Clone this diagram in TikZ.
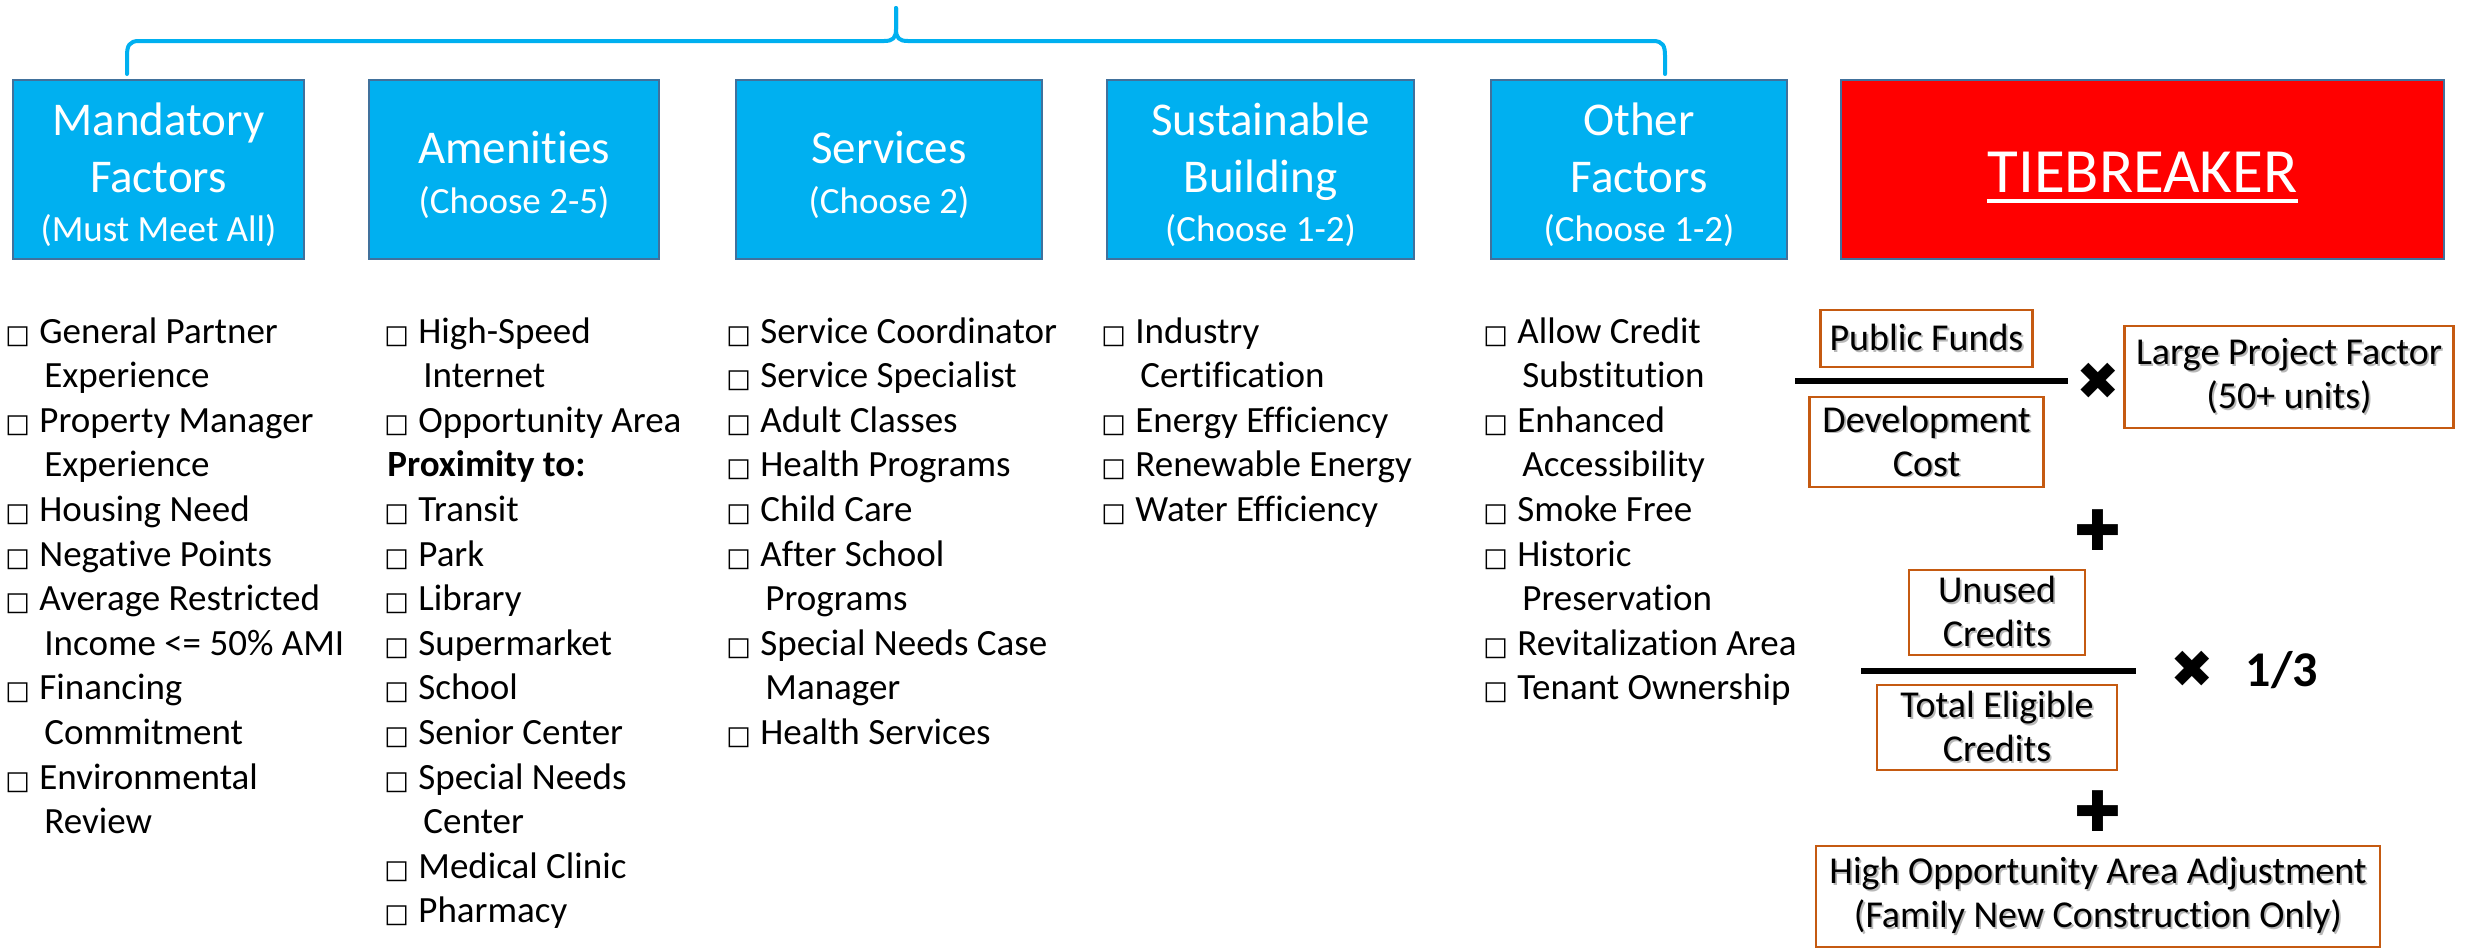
\documentclass[tikz,border=0pt]{standalone}
\usepackage{fontspec}
\setmainfont{Carlito}[Ligatures=NoCommon]
\newfontfamily\symfont{DejaVu Sans}

\definecolor{catblue}{HTML}{00B0F0}
\definecolor{edgeblue}{HTML}{41719C}
\definecolor{tiered}{HTML}{FF0000}
\definecolor{rustedge}{HTML}{C55A11}

% check box glyph and continuation indent for the criteria lists
\newcommand{\cbx}{\makebox[17pt][l]{\symfont\fontsize{13}{13}\selectfont □}}
\newcommand{\ind}{\hspace*{19.5pt}}
% text with a soft drop shadow
\newcommand{\shd}[1]{\makebox[0pt][l]{\kern0.9pt\raisebox{-0.9pt}{\textcolor{black!28}{#1}}}#1}

\begin{document}
\begin{tikzpicture}[x=0.5pt,y=-0.5pt,
  catbox/.style={draw=edgeblue, line width=1.2pt, fill=catblue, inner sep=0pt},
  redbox/.style={draw=edgeblue, line width=1.2pt, fill=tiered, inner sep=0pt},
  ttl/.style={text=white, font=\fontsize{23.5}{28}\selectfont, anchor=base, inner sep=0pt},
  sub/.style={text=white, font=\fontsize{18.5}{22}\selectfont, anchor=base, inner sep=0pt},
  li/.style={font=\fontsize{18.5}{22}\selectfont, anchor=base west, inner sep=0pt},
  tbox/.style={draw=rustedge, line width=1.4pt, align=center, inner sep=0pt,
    font=\fontsize{19}{22}\selectfont},
  frac/.style={line width=3pt, black},
  times/.style={font=\symfont\fontsize{26}{26}\selectfont, inner sep=0pt},
  plus/.style={font=\symfont\fontsize{28}{28}\selectfont, inner sep=0pt},
  brace/.style={catblue, line width=2pt, line join=round, line cap=round}]

\useasboundingbox (0,0) rectangle (2476,950);

% ---- curly brace over the five scoring categories ----
\coordinate (bl) at (127,74);
\coordinate (bt) at (896,8);
\coordinate (br) at (1665,74);
\draw[brace] (bl) -- (127,56) .. controls (127,46) and (129,41) .. (139,41)
  -- (884,41) .. controls (893,41) and (896,38) .. (896,29) -- (bt);
\draw[brace] (bt) -- (896,29) .. controls (896,38) and (899,41) .. (908,41)
  -- (1653,41) .. controls (1663,41) and (1665,46) .. (1665,56) -- (br);

% ---- category headers ----
\node[catbox, minimum width=145.5pt, minimum height=89.5pt] (mand) at (158.5,169.5) {};
\node[ttl] (mand-a) at (158.5,135) {Mandatory};
\node[ttl] (mand-b) at (158.5,192) {Factors};
\node[sub] (mand-c) at (158.5,241) {(Must Meet All)};

\node[catbox, minimum width=145pt, minimum height=89.5pt] (amen) at (514,169.5) {};
\node[ttl] (amen-a) at (514,163) {Amenities};
\node[sub] (amen-b) at (514,213) {(Choose 2-5)};

\node[catbox, minimum width=153pt, minimum height=89.5pt] (serv) at (889,169.5) {};
\node[ttl] (serv-a) at (889,163) {Services};
\node[sub] (serv-b) at (889,213) {(Choose 2)};

\node[catbox, minimum width=153.5pt, minimum height=89.5pt] (sust) at (1260.5,169.5) {};
\node[ttl] (sust-a) at (1260.5,135) {Sustainable};
\node[ttl] (sust-b) at (1260.5,192) {Building};
\node[sub] (sust-c) at (1260.5,241) {(Choose 1-2)};

\node[catbox, minimum width=148pt, minimum height=89.5pt] (oth) at (1639,169.5) {};
\node[ttl] (oth-a) at (1639,135) {Other};
\node[ttl] (oth-b) at (1639,192) {Factors};
\node[sub] (oth-c) at (1639,241) {(Choose 1-2)};

\node[redbox, minimum width=301.5pt, minimum height=89.5pt] (tie) at (2142.5,169.5) {};
\node[text=white, font=\fontsize{31.5}{36}\selectfont, anchor=base, inner sep=0pt]
  (tie-t) at (2142.5,192) {TIEBREAKER};
\draw[white, line width=2pt] ([yshift=-4.6pt]tie-t.base west) -- ([yshift=-4.6pt]tie-t.base east);

% ---- criteria lists ----
\foreach \t [count=\i from 0] in {{\cbx General Partner},{\ind Experience},
  {\cbx Property Manager},{\ind Experience},{\cbx Housing Need},{\cbx Negative Points},
  {\cbx Average Restricted},{\ind Income <= 50\% AMI},{\cbx Financing},
  {\ind Commitment},{\cbx Environmental},{\ind Review}}
  \node[li] (ml-\i) at (5,{343+44.6*\i}) {\t};

\foreach \t [count=\i from 0] in {{\cbx High-Speed},{\ind Internet},
  {\cbx Opportunity Area},{\hspace*{1.5pt}\textbf{Proximity to:}},{\cbx Transit},{\cbx Park},
  {\cbx Library},{\cbx Supermarket},{\cbx School},{\cbx Senior Center},
  {\cbx Special Needs},{\ind Center},{\cbx Medical Clinic},{\cbx Pharmacy}}
  \node[li] (al-\i) at (384,{343+44.6*\i}) {\t};

\foreach \t [count=\i from 0] in {{\cbx Service Coordinator},{\cbx Service Specialist},
  {\cbx Adult Classes},{\cbx Health Programs},{\cbx Child Care},{\cbx After School},
  {\ind Programs},{\cbx Special Needs Case},{\ind Manager},{\cbx Health Services}}
  \node[li] (sl-\i) at (726,{343+44.6*\i}) {\t};

\foreach \t [count=\i from 0] in {{\cbx Industry},{\ind Certification},
  {\cbx Energy Efficiency},{\cbx Renewable Energy},{\cbx Water Efficiency}}
  \node[li] (bl-\i) at (1101,{343+44.6*\i}) {\t};

\foreach \t [count=\i from 0] in {{\cbx Allow Credit},{\ind Substitution},
  {\cbx Enhanced},{\ind Accessibility},{\cbx Smoke Free},{\cbx Historic},
  {\ind Preservation},{\cbx Revitalization Area},{\cbx Tenant Ownership}}
  \node[li] (ol-\i) at (1483,{343+44.6*\i}) {\t};

% ---- tiebreaker formula ----
\node[tbox, minimum width=106pt, minimum height=28.5pt] (pf) at (1926.5,338.5) {\shd{Public Funds}};
\node[tbox, minimum width=117pt, minimum height=45pt] (dc) at (1926.5,442) {\shd{Development}\\\shd{Cost}};
\coordinate (f1a) at (1795,381);
\coordinate (f1b) at (2068,381);
\draw[frac] (f1a) -- (f1b);
\node[times] (x1) at (2098,381) {✖};
\node[tbox, minimum width=164.5pt, minimum height=51pt] (lp) at (2289,377) {\shd{Large Project Factor}\\\shd{(50+ units)}};

\node[plus] (p1) at (2098,530) {✚};

\node[tbox, minimum width=88pt, minimum height=42.5pt] (uc) at (1997,612.5) {\shd{Unused}\\\shd{Credits}};
\coordinate (f2a) at (1861,671);
\coordinate (f2b) at (2136,671);
\draw[frac] (f2a) -- (f2b);
\node[tbox, minimum width=120pt, minimum height=42.5pt] (te) at (1997,727.5) {\shd{Total Eligible}\\\shd{Credits}};
\node[times] (x2) at (2192,669) {✖};
\node[font=\bfseries\fontsize{25}{28}\selectfont, anchor=base, inner sep=0pt] (third) at (2282,686) {1/3};

\node[plus] (p2) at (2098,811) {✚};

\node[tbox, minimum width=282pt, minimum height=50.5pt] (hoa) at (2098,896.5)
  {\shd{High Opportunity Area Adjustment}\\\shd{(Family New Construction Only)}};
\end{tikzpicture}
\end{document}
